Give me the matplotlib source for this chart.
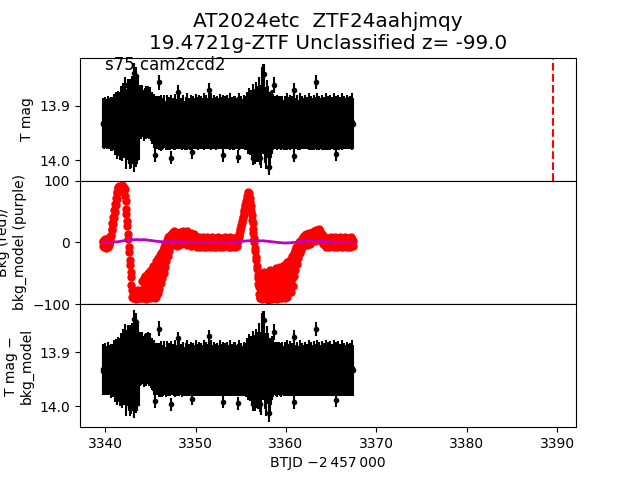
import numpy as np
import matplotlib
matplotlib.use("Agg")
import matplotlib.pyplot as plt

# ---------------- data ----------------
title = "AT2024etc  ZTF24aahjmqy\n19.4721g-ZTF Unclassified z= -99.0"
sector_label = "s75 cam2ccd2"
xlabel = "BTJD \u22122\u2009457\u2009000"
marker_time = 3389.6

# light curve, 0.1 d cadence starting at 3339.7
lc_start, lc_cadence = 3339.7, 0.1
mag_seg1 = [13.934,13.931,13.936,13.930,13.933,13.937,13.929,13.935,13.932,13.934,13.930,13.936,13.933]
err_seg1 = [0.044,0.046,0.043,0.047,0.045,0.042,0.048,0.044,0.046,0.050,0.045,0.047,0.049]
mag_seg2 = [13.930,13.936,13.925,13.940,13.932,13.928,13.938,13.922,13.935,13.942,13.927,13.933,13.920,13.945,
            13.930,13.925,13.938,13.918,13.936,13.942,13.915,13.932,13.948,13.910,13.930,13.940,13.922,13.935]
err_seg2 = [0.052,0.055,0.050,0.058,0.060,0.054,0.062,0.058,0.066,0.060,0.070,0.064,0.068,0.072,
            0.062,0.075,0.070,0.068,0.078,0.072,0.070,0.076,0.074,0.072,0.080,0.068,0.074,0.065]
mag_gap = [np.nan]
err_gap = [np.nan]
mag_seg3 = [13.912,13.915,13.910,13.914,13.917,13.911,13.913,13.916,13.909,13.914,13.918,13.912,13.920,13.922,13.925,13.928,13.930]
err_seg3 = [0.050,0.046,0.048,0.044,0.047,0.045,0.049,0.043,0.046,0.048,0.044,0.047,0.045,0.048,0.046,0.050,0.048]
mag_seg4 = [13.934,13.930,13.936,13.932,13.929,13.935,13.931,13.937,13.933,13.928,
            13.934,13.936,13.930,13.933,13.938,13.931,13.935,13.929,13.934,13.932,
            13.936,13.930,13.933,13.937,13.931,13.934,13.929,13.935,13.932,13.936,
            13.930,13.934,13.938,13.931,13.933,13.929,13.935,13.932,13.937,13.930,
            13.934,13.931,13.936,13.933,13.929,13.935,13.932,13.938,13.930,13.934,
            13.931,13.936,13.933,13.929,13.935,13.930,13.937,13.932,13.934,13.931,
            13.935,13.929,13.933,13.936,13.930,13.934,13.932,13.938,13.931,13.935,
            13.933,13.929,13.936,13.932,13.930,13.935,13.931,13.937,13.934,13.930,
            13.933,13.936,13.929,13.934,13.932,13.938,13.931,13.935,13.930,13.933,
            13.936,13.932,13.929,13.935,13.931,13.934,13.937,13.930,13.933,13.936]
err_seg4 = [0.045,0.048,0.043,0.050,0.046,0.044,0.052,0.045,0.047,0.049,
            0.044,0.046,0.051,0.045,0.043,0.048,0.046,0.050,0.044,0.047,
            0.045,0.052,0.046,0.043,0.049,0.045,0.051,0.044,0.047,0.046,
            0.050,0.044,0.043,0.048,0.046,0.052,0.045,0.047,0.044,0.050,
            0.046,0.049,0.044,0.047,0.051,0.045,0.048,0.043,0.050,0.046,
            0.049,0.044,0.047,0.052,0.045,0.050,0.043,0.047,0.046,0.049,
            0.045,0.052,0.047,0.044,0.050,0.046,0.048,0.043,0.049,0.045,
            0.047,0.051,0.044,0.048,0.050,0.045,0.049,0.043,0.046,0.050,
            0.047,0.044,0.052,0.046,0.048,0.043,0.050,0.045,0.049,0.047,
            0.044,0.048,0.052,0.045,0.049,0.046,0.043,0.050,0.047,0.045]
mag_seg5 = [13.932,13.928,13.936,13.925,13.934,13.930,13.940,13.922,13.935,13.928,
            13.942,13.920,13.933,13.938,13.918,13.930,13.945,13.915,13.908,13.905,
            13.912,13.935,13.942,13.920,13.930,13.950,13.948,13.935,13.928,13.933,13.930]
err_seg5 = [0.050,0.054,0.052,0.058,0.056,0.060,0.058,0.062,0.064,0.060,
            0.066,0.064,0.070,0.066,0.072,0.068,0.070,0.074,0.080,0.082,
            0.076,0.070,0.075,0.068,0.066,0.076,0.070,0.062,0.058,0.055,0.052]
mag_seg6 = [13.933,13.930,13.936,13.931,13.934,13.929,13.937,13.932,13.935,13.930,
            13.934,13.938,13.931,13.933,13.929,13.936,13.932,13.935,13.930,13.937,
            13.931,13.934,13.929,13.936,13.933,13.930,13.935,13.938,13.932,13.929,
            13.934,13.931,13.936,13.933,13.930,13.937,13.932,13.935,13.929,13.934,
            13.936,13.931,13.933,13.938,13.930,13.935,13.932,13.929,13.936,13.934,
            13.931,13.937,13.933,13.930,13.935,13.932,13.938,13.929,13.934,13.931,
            13.936,13.933,13.930,13.935,13.932,13.937,13.929,13.934,13.931,13.936,
            13.933,13.930,13.938,13.932,13.935,13.929,13.934,13.931,13.936,13.933,
            13.930,13.935,13.932,13.937,13.931,13.934,13.929,13.933]
err_seg6 = [0.046,0.049,0.044,0.051,0.045,0.048,0.043,0.050,0.046,0.049,
            0.045,0.043,0.050,0.047,0.052,0.044,0.048,0.046,0.051,0.043,
            0.049,0.045,0.052,0.044,0.047,0.050,0.046,0.043,0.048,0.052,
            0.045,0.049,0.044,0.047,0.050,0.043,0.048,0.045,0.052,0.046,
            0.044,0.050,0.047,0.043,0.051,0.045,0.048,0.052,0.044,0.046,
            0.050,0.043,0.047,0.051,0.045,0.049,0.043,0.052,0.046,0.050,
            0.044,0.047,0.051,0.045,0.048,0.043,0.052,0.046,0.050,0.044,
            0.047,0.051,0.043,0.048,0.045,0.052,0.046,0.049,0.044,0.047,
            0.050,0.045,0.048,0.043,0.049,0.046,0.052,0.047]

# individually visible outlying points
out_time = [3342.13,3343.16,3343.35,3346.00,3348.00,3351.45,3357.52,3358.70,3360.90,3363.30,
            3342.70,3343.43,3345.55,3347.30,3349.60,3353.07,3354.65,3356.30,3357.16,3358.15,3360.90,3365.50]
out_mag = [13.862,13.839,13.844,13.856,13.874,13.870,13.841,13.862,13.871,13.856,
           14.001,13.996,13.990,13.996,13.986,13.991,13.994,13.996,13.996,14.012,13.992,13.989]
out_err = [0.015,0.018,0.016,0.014,0.012,0.012,0.018,0.015,0.013,0.013,
           0.016,0.016,0.013,0.012,0.012,0.012,0.012,0.013,0.014,0.016,0.012,0.012]

# background, 0.05 d cadence starting at 3339.7
bkg_start, bkg_cadence = 3339.7, 0.05
bkg = [3,-6,1,-8,4,-3,6,-9,0,5,-5,2,-7,7,-2,-4,3,
       3,12,10,22,20,32,30,42,40,52,50,62,60,72,70,82,80,89,
       90,86,92,88,85,91,87,93,84,90,86,92,88,85,
       86,75,67,54,46,34,26,14,5,-7,-15,-28,-36,-48,-56,-69,-77,-88,
       -80,-91,-84,-78,-90,-86,-82,-92,-79,-87,-83,-90,-77,-85,-91,-81,-88,-84,-79,
       -90,-62,-85,-75,-91,-58,-80,-88,-70,-55,-92,-83,-66,-89,-50,-78,-86,-60,-47,-90,-72,-84,-44,-65,-88,-55,-38,-80,-70,-90,-42,-60,
       -88,-30,-70,-45,-82,-25,-60,-38,-75,-20,-52,-66,-18,-44,-58,-12,-35,-50,-8,-28,-40,-2,-20,-30,4,-12,-22,8,-5,-14,10,2,-6,12,
       10,0,15,4,-5,12,18,2,8,-3,14,6,-6,16,9,1,13,-4,7,17,3,11,-2,15,5,19,8,-1,12,4,16,0,10,14,-5,7,18,2,11,-3,13,6,9,-6,15,3,8,12,-2,10,4,14,1,
       3,-6,7,-2,5,-8,1,6,-4,8,-7,2,-3,7,-5,4,-1,8,-6,3,-8,5,0,-4,6,-7,2,8,-3,-5,7,1,-8,4,-2,6,-6,3,8,-4,
       0,-7,5,-3,7,2,-8,6,-1,4,-5,8,-2,3,-7,5,1,-6,7,-3,2,-8,6,0,-4,8,-5,3,-1,7,-6,4,-3,6,-8,1,5,-2,8,-7,
       3,-4,6,0,-5,7,-2,4,-8,5,-1,3,-6,2,
       2,6,9,12,14,18,21,25,28,32,35,39,42,46,50,53,57,60,64,68,71,75,
       78,82,76,80,74,
       72,65,59,51,45,36,31,21,16,7,1,-9,-14,-23,-29,-38,-43,-53,-58,-67,-73,-83,-90,
       -90,-62,-84,-75,-92,-55,-80,-70,-88,-48,-86,-66,-91,-78,-58,-85,-72,-93,-52,-82,
       -68,-89,-45,-76,-87,-60,-92,-71,-50,-84,-79,-90,-56,-74,-88,-42,-81,-67,-92,-53,
       -77,-86,-63,-40,-89,-73,-58,-91,-82,-48,-70,-87,-36,-62,-90,-78,-45,-84,-55,-32,
       -88,-68,-40,-80,-50,-28,-72,-60,
       -80,-30,-60,-22,-70,-40,-18,-55,-28,-12,-45,-20,-8,-35,-15,-4,-25,-10,0,-18,-6,3,-12,-2,6,-8,
       0,8,-4,10,3,12,-2,9,14,4,-5,11,6,15,1,13,8,-3,16,7,12,2,17,10,5,18,9,14,3,20,
       11,6,19,13,8,21,4,15,10,18,6,12,2,14,8,-2,10,4,
       5,-4,8,-7,2,6,-3,7,-6,1,4,-8,6,-2,8,-5,3,-1,7,-6,2,5,-7,8,0,-4,6,-3,4,-8,
       7,1,-5,3,8,-6,2,-2,6,-7,5,0,-4,7,-3,8,-6,3,1,-8,6,-2,4,-5,7,2,-7,5,-1,8,-4,3,6,-6,2]

# background model, 0.25 d cadence starting at 3339.7
model_start, model_cadence = 3339.7, 0.25
bkg_model = [0,0.3,0,-0.2,0,0.4,0.8,1.2,
             1.8,2.5,3.2,3.8,
             4.2,4.5,4.3,4.6,4.4,4.0,4.5,4.2,3.8,
             3.2,2.8,2.2,1.8,1.5,1.2,1.0,
             1.2,0.8,1.0,1.3,0.9,0.6,1.0,0.7,0.4,0.5,0.2,0.3,
             0,0.2,-0.3,0.1,0,-0.2,0.3,0,-0.1,0.2,-0.3,0,0.1,-0.2,0.2,0,-0.1,0.3,0.5,0.8,1.0,1.4,
             1.8,2.2,2.5,2.8,3.0,2.7,3.1,2.8,2.5,2.6,2.2,1.8,1.5,
             1.0,0.6,0.2,-0.2,-0.5,-0.8,-1.0,-0.8,-0.6,-0.3,0,0.4,
             0.8,1.2,1.5,1.8,2.0,2.3,2.1,2.4,2.2,2.0,1.7,1.4,1.0,
             0.8,0.5,0.6,0.3,0.4,0.2,0.3,0,0.2,-0.1,0.1,0]

bkg_ticks = [-100, 0, 100]

# ---------------- assemble ----------------
mag = np.concatenate([mag_seg1, mag_seg2, mag_gap, mag_seg3, mag_seg4, mag_seg5, mag_seg6])
err = np.concatenate([err_seg1, err_seg2, err_gap, err_seg3, err_seg4, err_seg5, err_seg6])
lc_time = lc_start + lc_cadence * np.arange(len(mag))
bkg = np.array(bkg, dtype=float)
bkg_time = bkg_start + bkg_cadence * np.arange(len(bkg))
bkg_model = np.array(bkg_model)
model_time = model_start + model_cadence * np.arange(len(bkg_model))

# ---------------- plot ----------------
fig, axes = plt.subplots(3, 1, sharex=True, figsize=(6.4, 4.8), dpi=100)
fig.subplots_adjust(hspace=0)
ax1, ax2, ax3 = axes

for ax in (ax1, ax3):
    ax.errorbar(lc_time, mag, yerr=err, fmt='k.')
    ax.errorbar(out_time, out_mag, yerr=out_err, fmt='k.')
    ax.invert_yaxis()

ax1.axvline(marker_time, color='r', ls='--')
ax1.set_ylabel("T mag")
ax1.set_title(title, fontsize='x-large')
ax1.text(0.05, 0.9, sector_label, transform=ax1.transAxes, fontsize=12)

ax2.plot(bkg_time, bkg, 'r.', ms=10)
ax2.plot(model_time, bkg_model, color='m', lw=2)
ax2.set_ylim(-100, 100)
ax2.set_yticks(bkg_ticks)
ax2.set_ylabel("Bkg (red)/\nbkg_model (purple)")

ax3.set_ylabel("T mag \u2212\nbkg_model")
ax3.set_xlabel(xlabel)

fig.savefig("out.png", dpi=100)
